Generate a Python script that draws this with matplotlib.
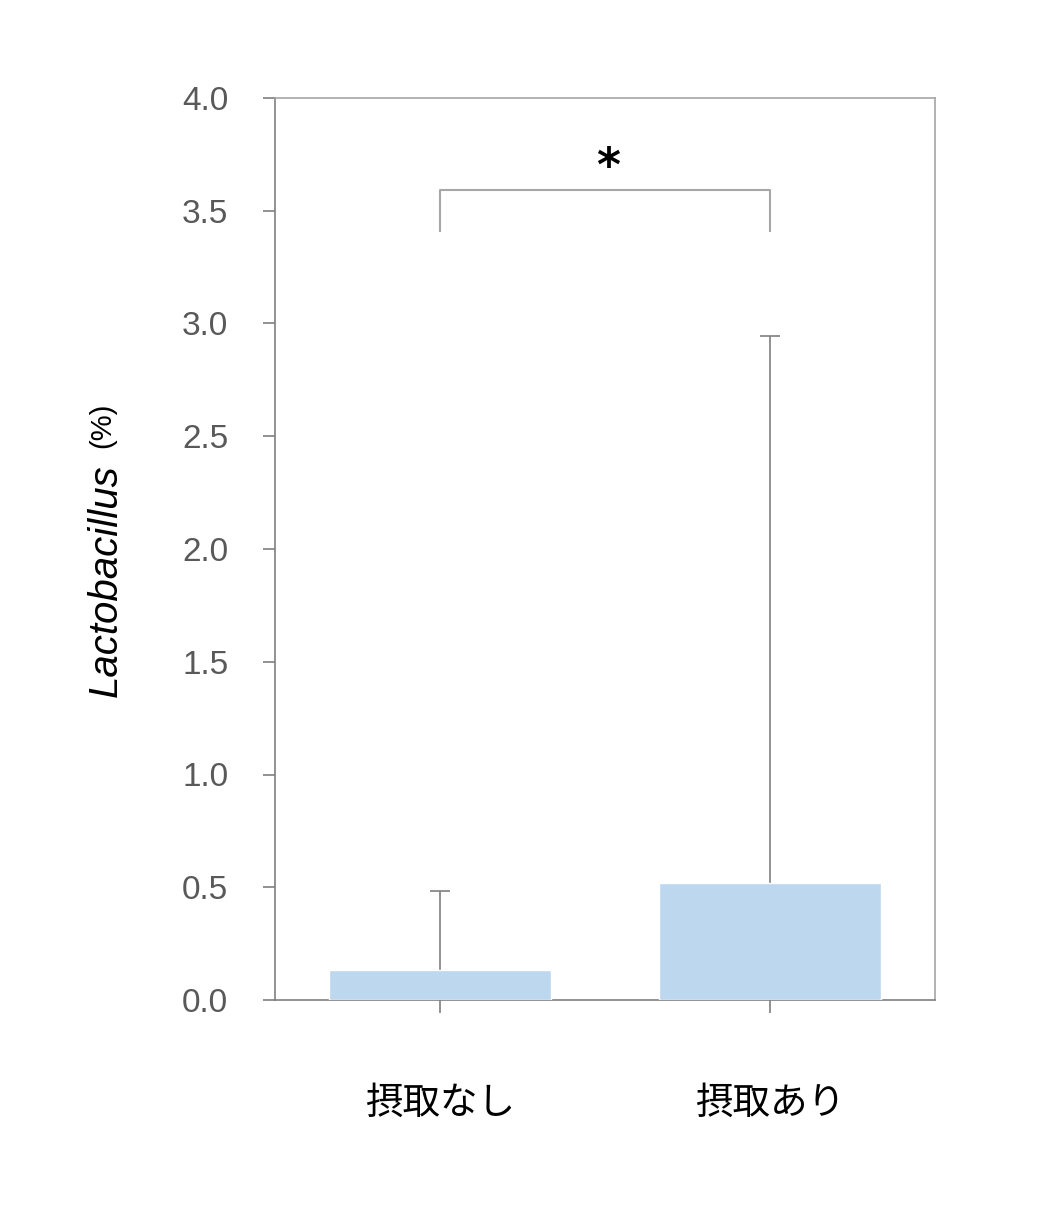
import matplotlib
matplotlib.use("Agg")
import matplotlib.pyplot as plt
import numpy as np

categories = ["摂取なし", "摂取あり"]
means = [0.133, 0.519]
err_upper = [0.350, 2.426]
yticks = [0.0, 0.5, 1.0, 1.5, 2.0, 2.5, 3.0, 3.5, 4.0]
sig_label = "*"
bracket_low = 3.41
bracket_high = 3.59

fig = plt.figure(figsize=(10.42, 12.31), dpi=100)
ax = fig.add_axes([275/1042, 1 - 1000/1231, (935-275)/1042, (1000-98)/1231])

x = np.arange(len(categories))
ax.bar(x, means, width=0.67, color="#BDD7EE", edgecolor="white", linewidth=1, zorder=3)
eb = ax.errorbar(x, means, yerr=[np.zeros(len(means)), err_upper], fmt="none",
                 ecolor="#7F7F7F", elinewidth=1.2, capsize=7, capthick=1.2, zorder=2)
# show only the upper caps
eb[1][0].set_visible(False)

ax.set_xlim(-0.5, 1.5)
ax.set_ylim(0, 4.0)
ax.set_yticks(yticks)
ax.set_yticklabels([f"{v:.1f}" for v in yticks])
ax.set_xticks(x)
ax.set_xticklabels(categories)

for lab in ax.get_yticklabels():
    lab.set_fontfamily("Liberation Sans")
    lab.set_fontsize(24)
    lab.set_color("#595959")
for lab in ax.get_xticklabels():
    lab.set_fontfamily("Noto Sans CJK JP")
    lab.set_fontsize(27)
    lab.set_color("black")

ax.tick_params(axis="y", direction="out", length=8.6, width=1.2, color="#7F7F7F", pad=25)
ax.tick_params(axis="x", direction="out", length=9.5, width=1.2, color="#7F7F7F", pad=51)

ax.spines["left"].set_color("#7F7F7F")
ax.spines["bottom"].set_color("#7F7F7F")
ax.spines["top"].set_color("#A6A6A6")
ax.spines["right"].set_color("#A6A6A6")
for s in ax.spines.values():
    s.set_linewidth(1.2)

# significance bracket
ax.plot([x[0], x[0], x[1], x[1]], [bracket_low, bracket_high, bracket_high, bracket_low],
        color="#A6A6A6", lw=1.5, zorder=4)
ax.text((x[0] + x[1]) / 2 + 0.01, 3.63, sig_label, ha="center", va="baseline",
        fontsize=33, fontweight="bold", fontfamily="DejaVu Sans", color="black")

# y label: italic genus + percent
fig.text(106/1042, 1 - 581/1231, "Lactobacillus", rotation=90, ha="center", va="center",
         fontsize=29, fontstyle="italic", fontfamily="Liberation Sans", color="black")
fig.text(102/1042, 1 - 425/1231, "(%)", rotation=90, ha="center", va="center",
         fontsize=21, fontfamily="Liberation Sans", color="black")

fig.savefig("out.png", dpi=100)
